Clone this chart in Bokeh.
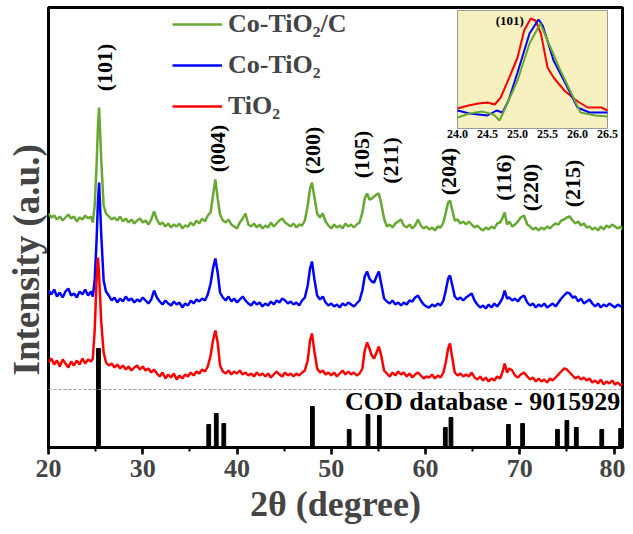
from math import pi

from bokeh.core.properties import value
from bokeh.embed import file_html
from bokeh.models import (Legend, LegendItem, Range1d, SingleIntervalTicker,
                          Span, Title)
from bokeh.plotting import figure
from bokeh.resources import INLINE

# 2theta grid shared by the three patterns (degrees)
two_theta = [
    20.0, 20.3, 20.6, 20.9, 21.2, 21.5, 21.8, 22.1, 22.4, 22.7,
    23.0, 23.3, 23.6, 23.9, 24.2, 24.5, 24.7, 24.9, 25.1, 25.25,
    25.37, 25.6, 25.85, 26.1, 26.4, 26.7, 27.0, 27.3, 27.6, 27.9,
    28.2, 28.5, 28.8, 29.1, 29.4, 29.7, 30.0, 30.3, 30.6, 30.9,
    31.2, 31.5, 31.8, 32.1, 32.4, 32.7, 33.0, 33.3, 33.6, 33.9,
    34.2, 34.5, 34.8, 35.1, 35.4, 35.7, 36.0, 36.3, 36.6, 36.9,
    37.2, 37.45, 37.7, 37.95, 38.2, 38.5, 38.8, 39.1, 39.4, 39.7,
    40.0, 40.3, 40.6, 40.9, 41.2, 41.5, 41.8, 42.1, 42.4, 42.7,
    43.0, 43.3, 43.6, 43.9, 44.2, 44.5, 44.8, 45.1, 45.4, 45.7,
    46.0, 46.3, 46.6, 46.9, 47.2, 47.5, 47.75, 47.95, 48.2, 48.5,
    48.8, 49.1, 49.4, 49.7, 50.0, 50.3, 50.6, 50.9, 51.2, 51.5,
    51.8, 52.1, 52.4, 52.7, 53.0, 53.3, 53.55, 53.8, 54.05, 54.3,
    54.55, 54.8, 55.05, 55.3, 55.6, 55.9, 56.2, 56.5, 56.8, 57.1,
    57.4, 57.7, 58.0, 58.3, 58.6, 58.9, 59.2, 59.5, 59.8, 60.1,
    60.4, 60.7, 61.0, 61.3, 61.6, 61.9, 62.15, 62.4, 62.6, 62.85,
    63.1, 63.4, 63.7, 64.0, 64.3, 64.6, 64.9, 65.2, 65.5, 65.8,
    66.1, 66.4, 66.7, 67.0, 67.3, 67.6, 67.9, 68.15, 68.4, 68.65,
    68.9, 69.2, 69.5, 69.8, 70.1, 70.45, 70.8, 71.1, 71.4, 71.7,
    72.0, 72.3, 72.6, 72.9, 73.2, 73.5, 73.8, 74.1, 74.4, 74.7,
    75.0, 75.3, 75.6, 75.9, 76.2, 76.5, 76.8, 77.1, 77.4, 77.7,
    78.0, 78.3, 78.6, 78.9, 79.2, 79.5, 79.8, 80.1, 80.4, 80.7,
    80.9,
]

# stacked intensities (a.u.)
co_tio2_c = [
    234, 230, 232, 228, 231, 227, 230, 233, 229, 231,
    226, 230, 228, 232, 229, 231, 225, 242, 282, 322,
    340, 287, 242, 234, 231, 228, 230, 227, 231, 226,
    229, 225, 228, 224, 227, 229, 225, 227, 223, 228,
    236, 228, 223, 225, 221, 224, 220, 223, 221, 224,
    219, 222, 221, 225, 222, 227, 224, 229, 226, 232,
    235, 252, 268, 249, 233, 227, 225, 228, 223, 221,
    219, 225, 229, 234, 223, 221, 224, 220, 223, 219,
    222, 220, 225, 221, 224, 227, 229, 225, 223, 221,
    224, 220, 223, 222, 227, 242, 259, 265, 251, 234,
    230, 234, 226, 222, 219, 223, 220, 222, 219, 224,
    221, 223, 220, 223, 225, 235, 249, 254, 248, 249,
    251, 253, 254, 244, 229, 221, 223, 220, 224, 226,
    228, 222, 220, 223, 219, 222, 228, 222, 219, 221,
    218, 220, 217, 221, 220, 225, 235, 245, 247, 237,
    227, 228, 224, 226, 223, 226, 223, 220, 222, 219,
    217, 220, 218, 221, 219, 224, 225, 229, 235, 223,
    226, 221, 223, 226, 230, 232, 223, 221, 218, 220,
    217, 220, 218, 221, 219, 222, 224, 223, 227, 228,
    230, 231, 227, 224, 226, 222, 224, 220, 221, 218,
    220, 217, 221, 218, 222, 220, 223, 221, 219, 221,
    218,
]

co_tio2 = [
    157, 153, 158, 151, 155, 150, 156, 159, 152, 154,
    150, 156, 153, 158, 152, 156, 151, 167, 207, 247,
    265, 212, 167, 156, 152, 147, 150, 145, 149, 146,
    151, 147, 149, 145, 148, 146, 150, 147, 144, 148,
    157, 150, 146, 143, 147, 144, 142, 146, 143, 145,
    140, 144, 142, 147, 144, 148, 146, 149, 147, 153,
    164, 179, 189, 175, 155, 150, 147, 151, 146, 149,
    145, 148, 151, 147, 144, 142, 146, 143, 145, 141,
    144, 142, 146, 143, 147, 145, 149, 147, 144, 146,
    143, 145, 142, 147, 150, 162, 179, 186, 169, 152,
    148, 151, 145, 142, 144, 141, 143, 140, 144, 142,
    145, 143, 141, 144, 147, 157, 171, 176, 169, 166,
    165, 171, 176, 164, 149, 146, 144, 147, 143, 145,
    142, 145, 143, 147, 146, 150, 152, 147, 143, 141,
    140, 143, 141, 144, 142, 147, 157, 169, 172, 162,
    151, 148, 150, 147, 150, 152, 154, 147, 143, 140,
    142, 139, 143, 140, 144, 141, 145, 149, 157, 149,
    150, 147, 149, 146, 150, 152, 145, 142, 144, 140,
    143, 141, 144, 140, 142, 144, 141, 145, 149, 152,
    155, 154, 150, 151, 146, 149, 144, 146, 148, 144,
    141, 144, 140, 143, 141, 144, 142, 140, 143, 141,
    143,
]

tio2 = [
    85, 89, 83, 87, 81, 88, 84, 80, 86, 82,
    87, 83, 89, 84, 88, 86, 89, 117, 167, 190,
    172, 125, 95, 85, 82, 84, 80, 83, 79, 82,
    78, 81, 77, 80, 82, 78, 81, 77, 79, 75,
    78, 74, 71, 75, 69, 73, 70, 74, 68, 72,
    69, 73, 71, 75, 72, 76, 74, 78, 76, 81,
    92, 107, 117, 105, 82, 76, 74, 77, 73, 76,
    74, 77, 73, 75, 72, 74, 71, 75, 72, 74,
    71, 74, 70, 73, 76, 73, 71, 75, 72, 74,
    71, 74, 72, 75, 77, 87, 107, 114, 97, 79,
    75, 77, 73, 75, 72, 75, 71, 74, 77, 73,
    76, 73, 75, 72, 74, 79, 97, 105, 99, 92,
    89, 95, 101, 92, 77, 74, 71, 75, 72, 76,
    73, 75, 71, 74, 70, 73, 75, 72, 69, 71,
    70, 73, 69, 72, 70, 75, 85, 99, 104, 89,
    75, 72, 74, 71, 73, 71, 75, 70, 68, 71,
    67, 70, 66, 69, 67, 71, 69, 75, 84, 75,
    79, 77, 72, 70, 73, 75, 71, 68, 70, 66,
    69, 66, 68, 65, 69, 67, 70, 73, 76, 79,
    78, 75, 72, 69, 71, 68, 70, 67, 69, 65,
    67, 64, 68, 63, 66, 64, 67, 63, 65, 62,
    64,
]

# COD 9015929 reference lines
cod_pos = [25.3, 37.0, 37.8, 38.6, 48.0, 51.9, 53.9, 55.1, 62.1, 62.7,
           68.8, 70.3, 74.0, 75.0, 76.0, 78.7, 80.7]
cod_int = [99, 23, 34, 24, 41, 18, 33, 32, 20, 30,
           23, 24, 18, 27, 20, 18, 19]

# (hkl) labels
hkl = ["(101)", "(004)", "(200)", "(105)", "(211)", "(204)", "(116)", "(220)", "(215)"]
hkl_x = [25.9, 37.9, 48.0, 53.2, 56.3, 62.4, 68.25, 71.1, 75.55]
hkl_y = [380, 299, 297, 293, 287, 276, 270, 260, 264]

# inset: zoom on the (101) peak
inset_red_x = [24.0, 24.18, 24.35, 24.5, 24.62, 24.72, 24.89, 25.0, 25.11, 25.22,
               25.3, 25.39, 25.5, 25.6, 25.78, 25.94, 26.03, 26.17, 26.4, 26.5]
inset_red_y = [20, 23, 25, 26, 24, 31, 55, 71, 98, 110,
               108, 95, 61, 51, 38, 30, 26, 21, 21, 18]
inset_blue_x = [24.0, 24.2, 24.5, 24.65, 24.75, 24.85, 25.0, 25.2, 25.35, 25.42,
                25.6, 25.8, 26.0, 26.2, 26.5]
inset_blue_y = [18, 15, 13, 18, 16, 28, 56, 95, 109, 103,
                68, 45, 21, 16, 16]
inset_green_x = [24.0, 24.2, 24.4, 24.6, 24.7, 24.8, 25.0, 25.2, 25.38, 25.5,
                 25.7, 25.9, 26.05, 26.3, 26.5]
inset_green_y = [11, 15, 17, 14, 8, 21, 48, 85, 105, 88,
                 60, 35, 16, 13, 12]
inset_ticks = [24.0, 24.5, 25.0, 25.5, 26.0, 26.5]

GREEN = "#66A832"
BLUE = "#0000FF"
RED = "#FF0000"
FONT = "Liberation Serif"

p = figure(width=625, height=527, x_range=Range1d(20, 80.9), y_range=Range1d(0, 440),
           output_backend="svg", toolbar_location=None,
           min_border_left=48, min_border_right=3, min_border_top=7, min_border_bottom=80)
p.extra_x_ranges = {"ix": Range1d(17.18, 26.75)}
p.extra_y_ranges = {"iy": Range1d(-319, 121)}

p.xgrid.visible = False
p.ygrid.visible = False
p.outline_line_color = "black"
p.outline_line_width = 3

p.xaxis.ticker = SingleIntervalTicker(interval=10, num_minor_ticks=2)
p.xaxis.axis_label = "2θ (degree)"
p.xaxis.axis_label_text_font = FONT
p.xaxis.axis_label_text_font_style = "bold"
p.xaxis.axis_label_text_font_size = "36px"
p.xaxis.axis_label_standoff = 4
p.xaxis.major_label_text_font = FONT
p.xaxis.major_label_text_font_style = "bold"
p.xaxis.major_label_text_font_size = "26px"
p.xaxis.major_label_standoff = 5
p.xaxis.major_tick_in = 0
p.xaxis.major_tick_out = 7
p.xaxis.minor_tick_in = 0
p.xaxis.minor_tick_out = 4
p.xaxis.major_tick_line_width = 2.5
p.xaxis.minor_tick_line_width = 2
p.xaxis.axis_line_width = 3

# y label sits below the frame centre in the original, so use a side title
p.yaxis.visible = False
p.add_layout(Title(text="Intensity (a.u.)", align="left", offset=72, standoff=4,
                   text_font=FONT, text_font_style="bold", text_font_size="37px"), "left")

# patterns
rg = p.line(two_theta, co_tio2_c, line_color=GREEN, line_width=2.5)
rb = p.line(two_theta, co_tio2, line_color=BLUE, line_width=2.5)
rr = p.line(two_theta, tio2, line_color=RED, line_width=2.5)

# reference lines
p.add_layout(Span(location=58, dimension="width", line_color="#9a9a9a",
                  line_dash="3 2", line_width=1))
p.vbar(x=cod_pos, top=cod_int, bottom=0, width=0.4, color="black")
p.text(x=[80.65], y=[46], text=["COD database - 9015929"], text_align="right",
       text_baseline="middle", text_font=value(FONT), text_font_style="bold",
       text_font_size="26px", text_color="black")

p.text(x=hkl_x, y=hkl_y, text=hkl, angle=pi / 2, text_align="center",
       text_baseline="middle", text_font=value(FONT), text_font_style="bold",
       text_font_size="22px", text_color="black")

# inset
p.quad(left=[24.0], right=[26.5], bottom=[0], top=[118], fill_color="#F7F0C0",
       line_color="#9a9a9a", line_width=1, x_range_name="ix", y_range_name="iy")
p.line(inset_red_x, inset_red_y, line_color=RED, line_width=2,
       x_range_name="ix", y_range_name="iy")
p.line(inset_blue_x, inset_blue_y, line_color=BLUE, line_width=2,
       x_range_name="ix", y_range_name="iy")
p.line(inset_green_x, inset_green_y, line_color=GREEN, line_width=2,
       x_range_name="ix", y_range_name="iy")
p.text(x=inset_ticks, y=[-1] * len(inset_ticks), text=[f"{t:.1f}" for t in inset_ticks],
       text_align="center", text_baseline="top", text_font=value(FONT),
       text_font_style="bold", text_font_size="12px", text_color="black",
       x_range_name="ix", y_range_name="iy")
p.text(x=[24.87], y=[108], text=["(101)"], text_align="center", text_baseline="middle",
       text_font=value(FONT), text_font_style="bold", text_font_size="13px",
       text_color="black", x_range_name="ix", y_range_name="iy")

legend = Legend(items=[LegendItem(label="Co-TiO₂/C", renderers=[rg]),
                       LegendItem(label="Co-TiO₂", renderers=[rb]),
                       LegendItem(label="TiO₂", renderers=[rr])],
                location=(124, 326), label_text_font=FONT, label_text_font_style="bold",
                label_text_font_size="26px", glyph_width=50, glyph_height=30,
                label_height=30, spacing=11, padding=0, margin=0, label_standoff=6,
                border_line_color=None, background_fill_alpha=0)
p.add_layout(legend)

open("out.html", "w").write(file_html(p, INLINE))
